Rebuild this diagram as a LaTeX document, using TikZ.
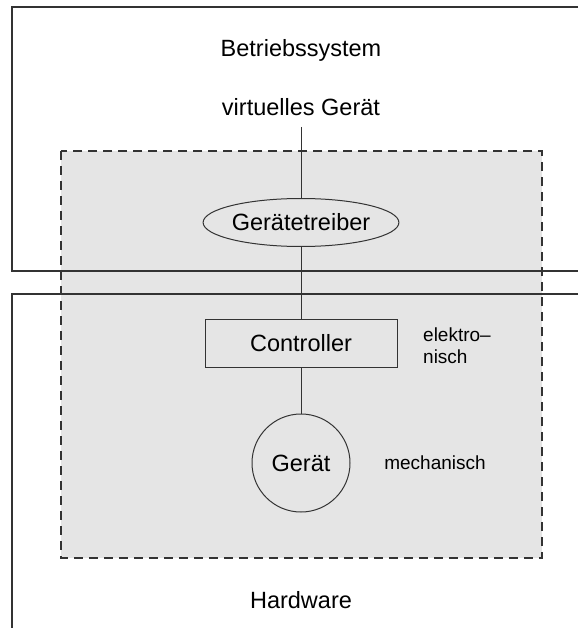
\documentclass[tikz,border=0pt]{standalone}
\usepackage{fontspec}
\setmainfont{Liberation Sans}
\usetikzlibrary{shapes.geometric}
\definecolor{zone}{HTML}{E5E5E5}
\definecolor{ink}{HTML}{333333}
\tikzset{
  frame/.style={draw=ink, line width=1.3pt},
  link/.style={draw=ink, line width=1pt},
  bigtext/.style={font=\fontsize{23.5}{28}\selectfont, inner sep=0pt},
  smalltext/.style={font=\fontsize{19}{22}\selectfont, inner sep=0pt},
  drivershape/.style={ellipse, draw=ink, line width=1pt, minimum width=192pt, minimum height=48pt, inner sep=0pt, bigtext},
  ctrlbox/.style={rectangle, draw=ink, line width=1pt, minimum width=192pt, minimum height=48pt, inner sep=0pt, bigtext},
  devcircle/.style={circle, draw=ink, line width=1pt, minimum size=98pt, inner sep=0pt, bigtext},
}
\begin{document}
\begin{tikzpicture}[x=1pt, y=-1pt]
  \useasboundingbox (0,0) rectangle (578,628);
  % shaded device region
  \fill[zone] (61,151) rectangle (542,558);
  % operating system and hardware layers
  \draw[frame] (578,7) -- (12,7) -- (12,271) -- (578,271);
  \draw[frame] (578,294) -- (12,294) -- (12,628);
  % dashed outline of the device region
  \draw[ink, line width=1.2pt, dash pattern=on 9pt off 6pt] (61,151) rectangle (542,558);

  \node[bigtext] (os) at (301,50) {Betriebssystem};
  \node[bigtext] (vg) at (301,107) {virtuelles Gerät};
  \coordinate (vgfoot) at (301,127);
  \node[drivershape] (drv) at (301,222.5) {Gerätetreiber};
  \node[ctrlbox] (ctrl) at (301,343) {Controller};
  \node[devcircle] (dev) at (301,463) {Gerät};
  \node[smalltext, anchor=west, align=left] (elek) at (423,346) {elektro–\\nisch};
  \node[smalltext] (mech) at (435,463) {mechanisch};
  \node[bigtext] (hw) at (301,600) {Hardware};

  \draw[link] (vgfoot) -- (drv);
  \draw[link] (drv) -- (ctrl);
  \draw[link] (ctrl) -- (dev);
\end{tikzpicture}
\end{document}
